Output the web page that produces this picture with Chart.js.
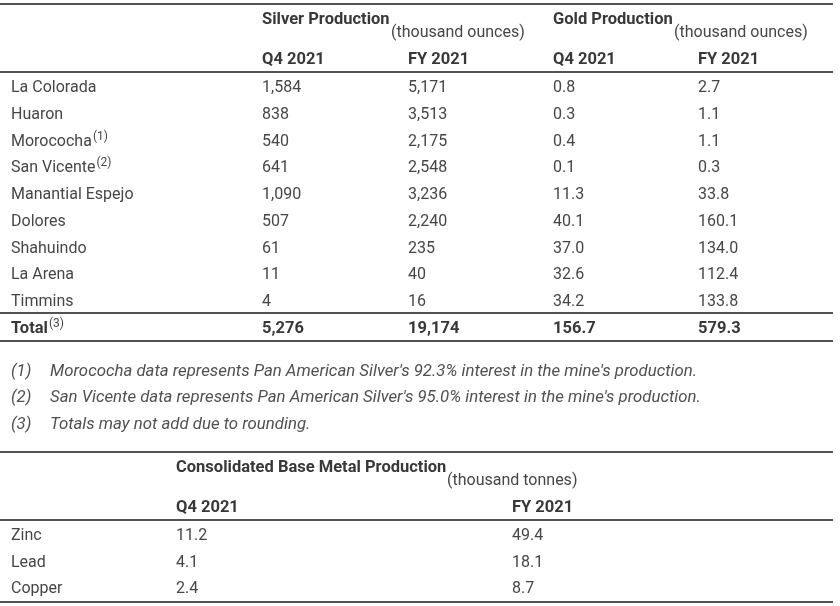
<!DOCTYPE html>
<html>
<head>
<meta charset="utf-8">
<script src="https://cdn.jsdelivr.net/npm/chart.js@4.4.1/dist/chart.umd.min.js"></script>
<style>
    html, body { margin: 0; padding: 0; background: #fff; }
    #wrap { width: 840px; height: 606px; }
</style>
</head>
<body>
<div id="wrap"><canvas id="table_chart" width="840" height="606"></canvas></div>
<script>
var mines = ["La Colorada", "Huaron", "Morococha", "San Vicente", "Manantial Espejo", "Dolores", "Shahuindo", "La Arena", "Timmins"];
var mineNotes = ["", "", "(1)", "(2)", "", "", "", "", ""];
var silverQ4 = [1584, 838, 540, 641, 1090, 507, 61, 11, 4];
var silverFY = [5171, 3513, 2175, 2548, 3236, 2240, 235, 40, 16];
var goldQ4 = [0.8, 0.3, 0.4, 0.1, 11.3, 40.1, 37.0, 32.6, 34.2];
var goldFY = [2.7, 1.1, 1.1, 0.3, 33.8, 160.1, 134.0, 112.4, 133.8];
var totals = [5276, 19174, 156.7, 579.3];
var metals = ["Zinc", "Lead", "Copper"];
var metalQ4 = [11.2, 4.1, 2.4];
var metalFY = [49.4, 18.1, 8.7];
var periods = ["Q4 2021", "FY 2021"];
var footnoteMarks = ["(1)", "(2)", "(3)"];
var footnotes = [
    "Morococha data represents Pan American Silver's 92.3% interest in the mine's production.",
    "San Vicente data represents Pan American Silver's 95.0% interest in the mine's production.",
    "Totals may not add due to rounding."
];

var FAMILY = 'Roboto, sans-serif';
var BODY = { font: '16px ' + FAMILY, color: '#464646' };
var HEAD = { font: 'bold 16.5px ' + FAMILY, color: '#383838' };
var UNIT = { font: '16px ' + FAMILY, color: '#464646' };
var NOTE = { font: 'italic 16.8px ' + FAMILY, color: '#505050' };

// row baselines
var rowTop = 92.3, rowStep = 26.7;
function rowY(i) { return rowTop + i * rowStep; }
function fmtInt(v) { return v.toLocaleString('en-US'); }
function fmtDec(v) { return v.toFixed(1); }

function textSet(xs, ys, texts, style, sups) {
    var pts = [];
    for (var i = 0; i < texts.length; i++) {
        pts.push({ x: Array.isArray(xs) ? xs[i] : xs, y: Array.isArray(ys) ? ys[i] : ys });
    }
    return {
        type: 'scatter',
        data: pts,
        texts: texts,
        sups: sups || [],
        style: style,
        pointRadius: 0,
        pointHoverRadius: 0
    };
}

function rule(y) {
    return {
        type: 'line',
        data: [{ x: 0, y: y }, { x: 833, y: y }],
        borderColor: '#1a1a1a',
        borderWidth: 1.3,
        pointRadius: 0
    };
}

var mineYs = mines.map(function (m, i) { return rowY(i); });
var totalY = rowY(mines.length);
var metalYs = metals.map(function (m, i) { return 540 + i * 26.7; });
var noteYs = footnotes.map(function (n, i) { return 376 + i * 26.3; });

var datasets = [
    rule(4), rule(72), rule(313), rule(341), rule(452), rule(520), rule(602),
    // silver / gold table
    textSet([262, 553], 24, ["Silver Production", "Gold Production"], HEAD),
    textSet([391, 674], 37, ["(thousand ounces)", "(thousand ounces)"], UNIT),
    textSet([262, 408, 553, 698], 64, periods.concat(periods), HEAD),
    textSet(11, mineYs, mines, BODY, mineNotes),
    textSet(262, mineYs, silverQ4.map(fmtInt), BODY),
    textSet(408, mineYs, silverFY.map(fmtInt), BODY),
    textSet(553, mineYs, goldQ4.map(fmtDec), BODY),
    textSet(698, mineYs, goldFY.map(fmtDec), BODY),
    textSet(11, totalY, ["Total"], HEAD, ["(3)"]),
    textSet([262, 408, 553, 698], totalY, [fmtInt(totals[0]), fmtInt(totals[1]), fmtDec(totals[2]), fmtDec(totals[3])], HEAD),
    // footnotes
    textSet(11, noteYs, footnoteMarks, NOTE),
    textSet(50, noteYs, footnotes, NOTE),
    // base metal table
    textSet(176, 471.7, ["Consolidated Base Metal Production"], HEAD),
    textSet(447, 485, ["(thousand tonnes)"], UNIT),
    textSet([176, 512], 511.7, periods, HEAD),
    textSet(11, metalYs, metals, BODY),
    textSet(176, metalYs, metalQ4.map(fmtDec), BODY),
    textSet(512, metalYs, metalFY.map(fmtDec), BODY)
];

var cellText = {
    id: 'cellText',
    afterDatasetsDraw: function (chart) {
        var ctx = chart.ctx;
        ctx.save();
        ctx.textAlign = 'left';
        ctx.textBaseline = 'alphabetic';
        chart.data.datasets.forEach(function (ds, di) {
            if (!ds.texts) return;
            var meta = chart.getDatasetMeta(di);
            meta.data.forEach(function (pt, j) {
                ctx.font = ds.style.font;
                ctx.fillStyle = ds.style.color;
                ctx.fillText(ds.texts[j], pt.x, pt.y);
                if (ds.sups[j]) {
                    var w = ctx.measureText(ds.texts[j]).width;
                    ctx.font = '12px ' + FAMILY;
                    ctx.fillStyle = BODY.color;
                    ctx.fillText(ds.sups[j], pt.x + w + 1, pt.y - 6);
                }
            });
        });
        ctx.restore();
    }
};

new Chart(document.getElementById('table_chart').getContext('2d'), {
    data: { datasets: datasets },
    options: {
        responsive: false,
        animation: false,
        layout: { padding: 0 },
        plugins: { legend: { display: false }, tooltip: { enabled: false } },
        scales: {
            x: { type: 'linear', min: 0, max: 840, display: false },
            y: { type: 'linear', min: 0, max: 606, reverse: true, display: false }
        }
    },
    plugins: [cellText]
});
</script>
</body>
</html>
